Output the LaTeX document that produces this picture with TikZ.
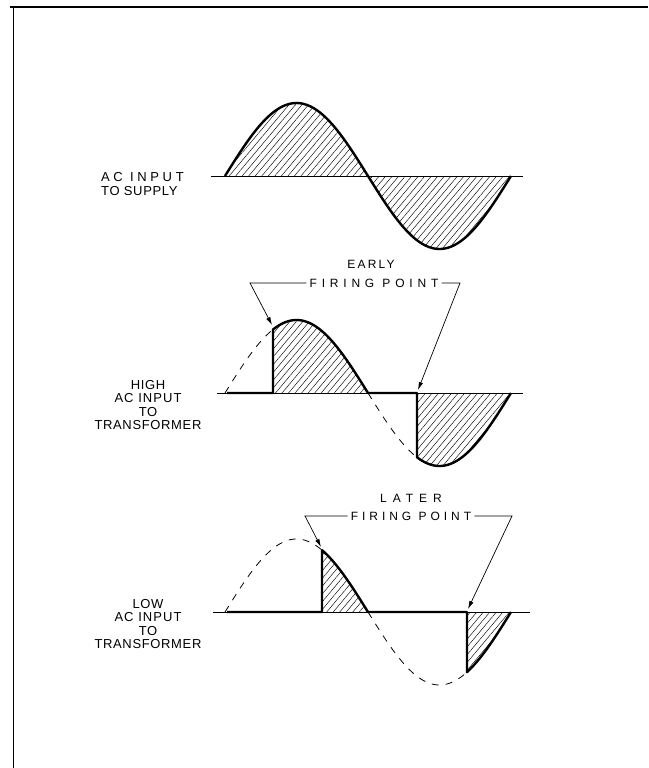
\documentclass[tikz,border=0pt]{standalone}
\usepackage{fontspec}
\setmainfont{Liberation Sans}
\newfontfamily\lblfont{Liberation Sans}[LetterSpace=5]
\newfontfamily\firefont{Liberation Sans}[LetterSpace=40]
\usetikzlibrary{arrows.meta, patterns.meta, positioning}

\begin{document}
\begin{tikzpicture}[
    x=1pt, y=-1pt,
    declare function={wave(\t)=73*sin((\t-225)*1.258741);},
    frame/.style={line width=1.6pt},
    axis/.style={line width=0.8pt},
    trace/.style={line width=2.4pt, line join=round},
    ghost/.style={line width=0.8pt, dash pattern=on 7pt off 7pt},
    hatch/.style={pattern={Lines[angle=50, distance=5pt, line width=0.45pt]}},
    wavelabel/.style={font=\fontsize{13}{13.5}\selectfont\lblfont, align=center, inner sep=0pt},
    firelabel/.style={font=\fontsize{12}{12.5}\selectfont\firefont, inner sep=0pt},
    arrow/.style={-{Latex[length=8pt, width=4.5pt]}, line width=0.7pt},
]
    \useasboundingbox (0,0) rectangle (648,768);
    \draw[frame] (10,7) -- (648,7);
    \draw[frame] (13.5,7) -- (13.5,768);

    % Top: ac input to supply
    \fill[hatch] plot[domain=225:511, samples=120] (\x,{176-wave(\x)}) -- cycle;
    \draw[axis] (211,176) -- (523,176);
    \draw[trace] plot[domain=225:511, samples=120] (\x,{176-wave(\x)});
    \node[wavelabel, align=left, anchor=west] (supply) at (101,184)
        {{\addfontfeature{LetterSpace=28}AC INPUT}\\TO SUPPLY};

    % Middle: high ac input, early firing
    \fill[hatch] (273,393) -- plot[domain=273:368, samples=60] (\x,{393-wave(\x)}) -- cycle;
    \fill[hatch] (417,393) -- plot[domain=417:511, samples=60] (\x,{393-wave(\x)}) -- cycle;
    \draw[ghost] plot[domain=225:273, samples=40] (\x,{393-wave(\x)});
    \draw[ghost] plot[domain=368:417, samples=40] (\x,{393-wave(\x)});
    \draw[axis] (217,393) -- (523,393);
    \draw[trace] (227,393) -- (273,393) -- plot[domain=273:368, samples=60] (\x,{393-wave(\x)})
        -- (417,393) -- plot[domain=417:511, samples=60] (\x,{393-wave(\x)});
    \node[wavelabel] (high) at (148,405) {HIGH\\{\addfontfeature{LetterSpace=8}AC INPUT}\\TO\\TRANSFORMER};

    \node[firelabel] (early) at (371,264) {\addfontfeature{LetterSpace=18}EARLY};
    \node[firelabel] (firehigh) at (374,283) {FIRING POINT};
    \coordinate (earlyleft) at (250,283);
    \coordinate (earlyright) at (460,283);
    \coordinate (hightipA) at (272,325);
    \coordinate (hightipB) at (418,390);
    \draw[arrow] ([xshift=-3pt]firehigh.west) -- (earlyleft) -- (hightipA);
    \draw[arrow] ([xshift=3pt]firehigh.east) -- (earlyright) -- (hightipB);

    % Bottom: low ac input, later firing
    \fill[hatch] (322,612) -- plot[domain=322:368, samples=40] (\x,{612-wave(\x)}) -- cycle;
    \fill[hatch] (467,612) -- plot[domain=467:511, samples=40] (\x,{612-wave(\x)}) -- cycle;
    \draw[ghost] plot[domain=225:322, samples=60] (\x,{612-wave(\x)});
    \draw[ghost] plot[domain=368:467, samples=60] (\x,{612-wave(\x)});
    \draw[axis] (213,612) -- (530,612);
    \draw[trace] (227,612) -- (322,612) -- plot[domain=322:368, samples=40] (\x,{612-wave(\x)})
        -- (467,612) -- plot[domain=467:511, samples=40] (\x,{612-wave(\x)});
    \node[wavelabel] (low) at (148,624) {LOW\\{\addfontfeature{LetterSpace=8}AC INPUT}\\TO\\TRANSFORMER};

    \node[firelabel] (later) at (411,498) {\addfontfeature{LetterSpace=50}LATER};
    \node[firelabel] (firelow) at (411,516) {\addfontfeature{LetterSpace=33}FIRING POINT};
    \coordinate (laterleft) at (305,516);
    \coordinate (laterright) at (512,516);
    \coordinate (lowtipA) at (321,547);
    \coordinate (lowtipB) at (468,609);
    \draw[arrow] ([xshift=-3pt]firelow.west) -- (laterleft) -- (lowtipA);
    \draw[arrow] ([xshift=3pt]firelow.east) -- (laterright) -- (lowtipB);
\end{tikzpicture}
\end{document}
